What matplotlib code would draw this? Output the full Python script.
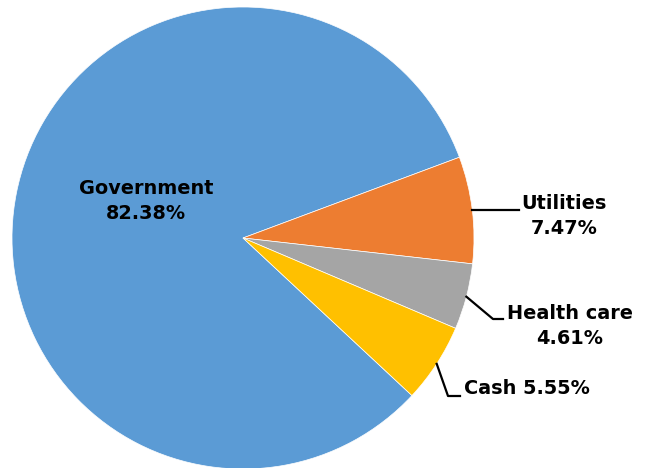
import numpy as np
import matplotlib.pyplot as plt

# sector shares (%)
labels = ["Government", "Utilities", "Health care", "Cash"]
shares = [82.38, 7.47, 4.61, 5.55]
colors = ["#5B9BD5", "#ED7D31", "#A5A5A5", "#FFC000"]

# pie geometry in pixels (figure is 646x468)
W, H = 646, 468
cx, cy, R = 243, 238, 231


def px(x, y):
    # pixel (from top-left) -> data coords, pie radius = 1
    return (x - cx) / R, (cy - y) / R


fig = plt.figure(figsize=(W / 100, H / 100), dpi=100)
ax = fig.add_axes([0, 0, 1, 1])
wedges, _ = ax.pie(shares, colors=colors, startangle=-43, counterclock=False,
                   radius=1, wedgeprops=dict(edgecolor="white", linewidth=0.5))
ax.set_xlim(-cx / R, (W - cx) / R)
ax.set_ylim((cy - H) / R, cy / R)
ax.axis("off")

font = dict(fontsize=13.9, fontweight="bold", color="black", family="DejaVu Sans")


def edge(w):
    a = np.deg2rad((w.theta1 + w.theta2) / 2)
    return np.cos(a), np.sin(a)


# leader lines
ex, ey = edge(wedges[1])
x1, y1 = px(519, 0)
ax.plot([ex, x1], [ey, ey], color="black", lw=1.6)

ex, ey = edge(wedges[2])
x1, y1 = px(493, 319)
x2, _ = px(503, 319)
ax.plot([ex, x1, x2], [ey, y1, y1], color="black", lw=1.6)

ex, ey = edge(wedges[3])
x1, y1 = px(448, 396)
x2, _ = px(460, 396)
ax.plot([ex, x1, x2], [ey, y1, y1], color="black", lw=1.6)

# labels
ax.text(*px(146, 201), f"{labels[0]}\n{shares[0]:.2f}%", ha="center", va="center",
        linespacing=1.4, **font)
ax.text(*px(564, 216), f"{labels[1]}\n{shares[1]:.2f}%", ha="center", va="center",
        linespacing=1.4, **font)
ax.text(*px(570, 326), f"{labels[2]}\n{shares[2]:.2f}%", ha="center", va="center",
        linespacing=1.4, **font)
ax.text(*px(464, 388), f"{labels[3]} {shares[3]:.2f}%", ha="left", va="center", **font)

fig.savefig("out.png", dpi=100)
